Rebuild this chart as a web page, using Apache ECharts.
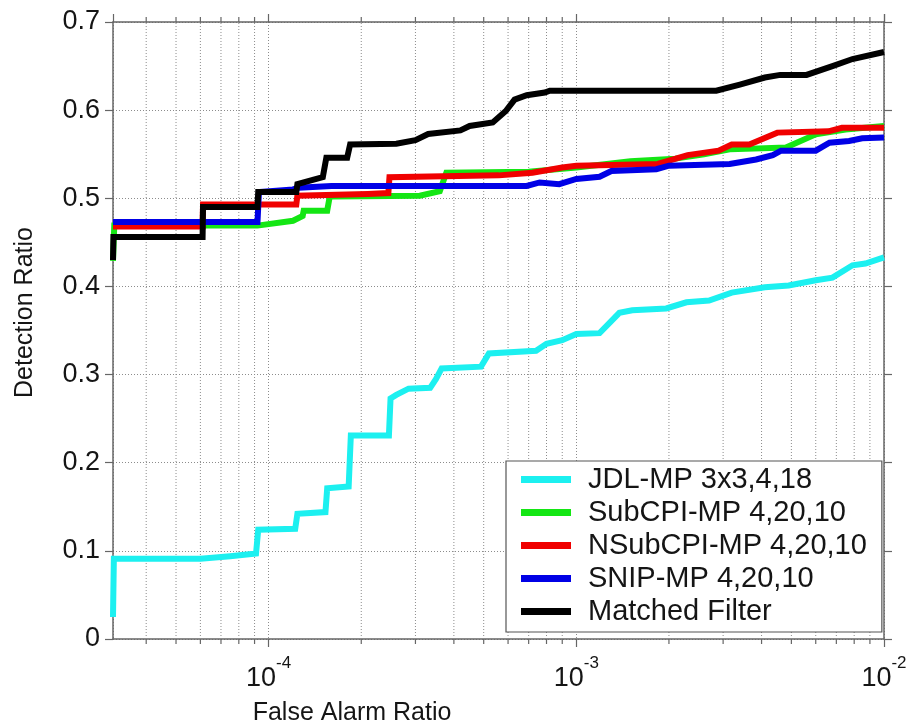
<!DOCTYPE html>
<html>
<head>
<meta charset="utf-8">
<script src="https://cdn.jsdelivr.net/npm/echarts@6/dist/echarts.min.js"></script>
<style>
  html, body { margin: 0; padding: 0; background: #fff; }
  #chart { width: 914px; height: 723px; }
</style>
</head>
<body>
<div id="chart"></div>
<script>
// ROC curves: [false alarm ratio, detection ratio]
const seriesNames = ['JDL-MP 3x3,4,18', 'SubCPI-MP 4,20,10', 'NSubCPI-MP 4,20,10', 'SNIP-MP 4,20,10', 'Matched Filter'];
const seriesColors = ['#1cf0f0', '#14e614', '#f00000', '#0000e6', '#000000'];

const jdlMP = [
  [3.12e-5, 0.025], [3.14e-5, 0.091], [6.0e-5, 0.091], [7.5e-5, 0.094], [9.1e-5, 0.097],
  [9.25e-5, 0.124], [1.22e-4, 0.125], [1.24e-4, 0.142], [1.53e-4, 0.144], [1.55e-4, 0.171],
  [1.82e-4, 0.173], [1.85e-4, 0.231], [2.46e-4, 0.231], [2.49e-4, 0.273], [2.6e-4, 0.277],
  [2.85e-4, 0.284], [3.35e-4, 0.285], [3.5e-4, 0.295], [3.65e-4, 0.307], [4.9e-4, 0.309],
  [5.2e-4, 0.324], [7.4e-4, 0.327], [8.0e-4, 0.335], [9.0e-4, 0.339], [1.0e-3, 0.346],
  [1.19e-3, 0.347], [1.38e-3, 0.370], [1.52e-3, 0.373], [1.96e-3, 0.375], [2.28e-3, 0.382],
  [2.7e-3, 0.384], [3.2e-3, 0.393], [4.1e-3, 0.399], [4.9e-3, 0.401], [6.0e-3, 0.407],
  [6.8e-3, 0.410], [7.9e-3, 0.424], [8.7e-3, 0.426], [1.0e-2, 0.433]
];

const subCPI = [
  [3.12e-5, 0.429], [3.15e-5, 0.469], [9.2e-5, 0.469], [1.2e-4, 0.4745], [1.29e-4, 0.480],
  [1.3e-4, 0.486], [1.55e-4, 0.486], [1.58e-4, 0.502], [3.1e-4, 0.503], [3.6e-4, 0.508],
  [3.78e-4, 0.529], [7.0e-4, 0.530], [1.0e-3, 0.535], [1.5e-3, 0.542], [2.1e-3, 0.545],
  [2.6e-3, 0.550], [3.15e-3, 0.5555], [4.8e-3, 0.5575], [6.0e-3, 0.5725], [7.5e-3, 0.578],
  [1.0e-2, 0.582]
];

const nSubCPI = [
  [3.12e-5, 0.468], [6.1e-5, 0.468], [6.12e-5, 0.493], [1.23e-4, 0.493], [1.24e-4, 0.503],
  [2.1e-4, 0.505], [2.45e-4, 0.506], [2.47e-4, 0.524], [5.6e-4, 0.526], [7.2e-4, 0.529],
  [9.0e-4, 0.535], [1.0e-3, 0.537], [1.84e-3, 0.539], [2.3e-3, 0.549], [2.9e-3, 0.554],
  [3.2e-3, 0.561], [3.65e-3, 0.561], [4.5e-3, 0.5745], [6.6e-3, 0.576], [7.3e-3, 0.580],
  [1.0e-2, 0.580]
];

const snipMP = [
  [3.12e-5, 0.473], [9.2e-5, 0.473], [9.3e-5, 0.507], [1.2e-4, 0.510], [1.25e-4, 0.512],
  [1.6e-4, 0.514], [6.9e-4, 0.514], [7.6e-4, 0.518], [8.8e-4, 0.516], [1.0e-3, 0.522],
  [1.19e-3, 0.5245], [1.3e-3, 0.531], [1.82e-3, 0.533], [2.0e-3, 0.537], [3.15e-3, 0.539],
  [3.84e-3, 0.544], [4.35e-3, 0.549], [4.63e-3, 0.554], [6.0e-3, 0.554], [6.65e-3, 0.563],
  [7.7e-3, 0.565], [8.5e-3, 0.568], [1.0e-2, 0.569]
];

const matchedFilter = [
  [3.12e-5, 0.430], [3.13e-5, 0.456], [6.1e-5, 0.456], [6.12e-5, 0.490], [9.2e-5, 0.490],
  [9.25e-5, 0.507], [1.23e-4, 0.507], [1.24e-4, 0.516], [1.5e-4, 0.524], [1.54e-4, 0.546],
  [1.8e-4, 0.546], [1.84e-4, 0.561], [2.6e-4, 0.562], [3.0e-4, 0.566], [3.3e-4, 0.573],
  [4.2e-4, 0.577], [4.5e-4, 0.582], [5.35e-4, 0.586], [5.9e-4, 0.599], [6.3e-4, 0.612],
  [6.9e-4, 0.617], [7.9e-4, 0.620], [8.2e-4, 0.622], [2.85e-3, 0.622], [3.4e-3, 0.629],
  [4.1e-3, 0.637], [4.6e-3, 0.640], [5.6e-3, 0.640], [6.8e-3, 0.650], [7.9e-3, 0.658],
  [1.0e-2, 0.666]
];

const seriesData = [jdlMP, subCPI, nSubCPI, snipMP, matchedFilter];

// Log-axis minor positions (2..9 within each decade)
const minorFar = [
  4e-5, 5e-5, 6e-5, 7e-5, 8e-5, 9e-5,
  2e-4, 3e-4, 4e-4, 5e-4, 6e-4, 7e-4, 8e-4, 9e-4,
  2e-3, 3e-3, 4e-3, 5e-3, 6e-3, 7e-3, 8e-3, 9e-3
];

const xMin = 3.12e-5, xMax = 1e-2;
const yMin = 0, yMax = 0.7, yStep = 0.1;

const FONT = '"Liberation Sans", Arial, Helvetica, sans-serif';
const TEXT_COLOR = '#151515';
const AXIS_COLOR = '#666';
const GRID_COLOR = '#8c8c8c';

function powerLabel(val) {
  const lg = Math.log10(val);
  const e = Math.round(lg);
  if (Math.abs(lg - e) > 1e-6) return '';
  return '{b|10}{s|' + e + '}';
}

const chart = echarts.init(document.getElementById('chart'), null, { renderer: 'canvas' });

const lineSeries = seriesNames.map((name, i) => ({
  name: name,
  type: 'line',
  xAxisIndex: 0,
  yAxisIndex: 0,
  data: seriesData[i],
  showSymbol: false,
  symbol: 'none',
  clip: true,
  z: 3 + i,
  lineStyle: { color: seriesColors[i], width: 6, join: 'miter', cap: 'butt' },
  itemStyle: { color: seriesColors[i] }
}));

// Minor grid lines and outward minor ticks on the bottom and top edges
const minorSeries = {
  type: 'custom',
  name: 'minor',
  xAxisIndex: 0,
  yAxisIndex: 0,
  silent: true,
  z: 1,
  clip: false,
  data: minorFar.map(v => [v, yMin]),
  renderItem: function (params, api) {
    const v = api.value(0);
    const b = api.coord([v, yMin]);
    const t = api.coord([v, yMax]);
    return {
      type: 'group',
      children: [
        { type: 'line', shape: { x1: b[0], y1: b[1], x2: t[0], y2: t[1] },
          style: { stroke: GRID_COLOR, lineWidth: 1, lineDash: [1, 2] } },
        { type: 'line', shape: { x1: b[0], y1: b[1], x2: b[0], y2: b[1] + 5 },
          style: { stroke: AXIS_COLOR, lineWidth: 1.2 } },
        { type: 'line', shape: { x1: t[0], y1: t[1], x2: t[0], y2: t[1] - 5 },
          style: { stroke: AXIS_COLOR, lineWidth: 1.2 } }
      ]
    };
  }
};

const option = {
  animation: false,
  backgroundColor: '#fff',
  grid: { left: 113, right: 30, top: 22, bottom: 84, containLabel: false, outerBoundsMode: 'none' },
  legend: {
    data: seriesNames,
    orient: 'vertical',
    left: 506,
    top: 461,
    padding: [2, 15, 4, 15],
    itemGap: 0,
    itemWidth: 50,
    itemHeight: 7,
    icon: 'rect',
    selectedMode: false,
    backgroundColor: '#fff',
    borderColor: '#555',
    borderWidth: 1.2,
    borderRadius: 0,
    textStyle: { fontSize: 29, lineHeight: 33, color: TEXT_COLOR, fontFamily: FONT, padding: [0, 0, 0, 12] }
  },
  xAxis: [
    {
      type: 'log', logBase: 10, min: xMin, max: xMax, position: 'bottom',
      axisLine: { show: true, onZero: false, lineStyle: { color: AXIS_COLOR, width: 1.5 } },
      axisTick: { show: true, inside: false, length: 8, lineStyle: { color: AXIS_COLOR, width: 1.2 } },
      axisLabel: {
        show: true, margin: 23, showMinLabel: false,
        formatter: powerLabel,
        rich: {
          b: { fontSize: 27, fontFamily: FONT, color: TEXT_COLOR, lineHeight: 30, verticalAlign: 'bottom' },
          s: { fontSize: 17, fontFamily: FONT, color: TEXT_COLOR, lineHeight: 18, verticalAlign: 'bottom', padding: [0, 0, 20, 0] }
        }
      },
      splitLine: { show: true, lineStyle: { color: GRID_COLOR, type: [1, 2], width: 1 } },
      name: 'False Alarm Ratio',
      nameLocation: 'middle',
      nameGap: 62,
      nameTextStyle: { fontSize: 25, fontFamily: FONT, color: TEXT_COLOR, padding: [0, 293, 0, 0] }
    },
    {
      type: 'log', logBase: 10, min: xMin, max: xMax, position: 'top',
      axisLine: { show: true, onZero: false, lineStyle: { color: AXIS_COLOR, width: 1.5 } },
      axisTick: { show: true, inside: false, length: 8, lineStyle: { color: AXIS_COLOR, width: 1.2 } },
      axisLabel: { show: false },
      splitLine: { show: false }
    }
  ],
  yAxis: [
    {
      type: 'value', min: yMin, max: yMax, interval: yStep, position: 'left',
      axisLine: { show: true, onZero: false, lineStyle: { color: AXIS_COLOR, width: 1.5 } },
      axisTick: { show: true, inside: false, length: 8, lineStyle: { color: AXIS_COLOR, width: 1.2 } },
      axisLabel: { show: true, margin: 13, fontSize: 27, fontFamily: FONT, color: TEXT_COLOR },
      splitLine: { show: true, lineStyle: { color: GRID_COLOR, type: [1, 2], width: 1 } },
      name: 'Detection Ratio',
      nameLocation: 'middle',
      nameRotate: 90,
      nameGap: 75,
      nameTextStyle: { fontSize: 25, fontFamily: FONT, color: TEXT_COLOR, padding: [0, 0, 0, 36] }
    },
    {
      type: 'value', min: yMin, max: yMax, interval: yStep, position: 'right',
      axisLine: { show: true, onZero: false, lineStyle: { color: AXIS_COLOR, width: 1.5 } },
      axisTick: { show: true, inside: false, length: 8, lineStyle: { color: AXIS_COLOR, width: 1.2 } },
      axisLabel: { show: false },
      splitLine: { show: false }
    }
  ],
  series: [minorSeries].concat(lineSeries)
};

chart.setOption(option);
</script>
</body>
</html>
